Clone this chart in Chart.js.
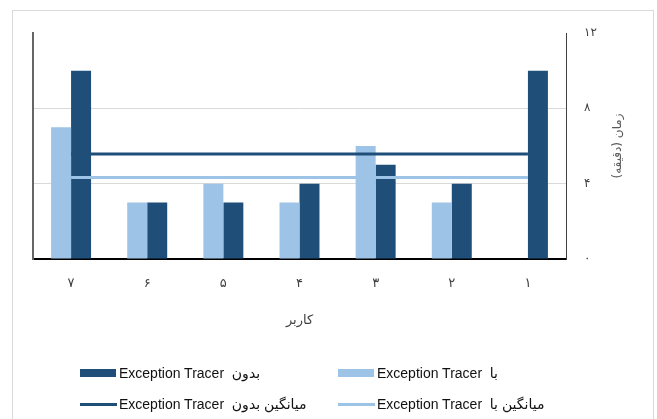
<!DOCTYPE html>
<html lang="fa">
<head>
<meta charset="utf-8">
<script src="https://cdn.jsdelivr.net/npm/chart.js@4/dist/chart.umd.min.js"></script>
<style>
  html, body { margin: 0; padding: 0; background: #fff; }
  #wrap { position: relative; width: 657px; height: 419px; overflow: hidden; }
  #frame { position: absolute; left: 12px; top: 10px; width: 642px; height: 420px; border: 1px solid #d9d9d9; box-sizing: border-box; }
  #chart { position: absolute; left: 0; top: 0; }
  #legend { position: absolute; left: 80px; top: 361px; display: grid; grid-template-columns: 258px auto; grid-auto-rows: 31px;
            font-family: "Liberation Sans", "DejaVu Sans", sans-serif; font-size: 14px; color: #111; }
  .item { display: flex; align-items: center; height: 24px; white-space: pre; }
  .sw-bar { width: 36px; height: 8px; margin-right: 3px; }
  .sw-line { width: 37px; height: 3px; margin-right: 2px; }
</style>
</head>
<body>
<div id="wrap">
  <div id="frame"></div>
  <canvas id="chart" width="657" height="419"></canvas>
  <div id="legend"></div>
</div>
<script>
// Users 1..7 (drawn right to left)
const users = ['۱', '۲', '۳', '۴', '۵', '۶', '۷'];
// Minutes spent per user
const withoutTracer = [10, 4, 5, 4, 3, 3, 10];
const withTracer = [null, 3, 6, 3, 4, 3, 7];
// Mean lines
const meanWithout = [5.57, 5.57, 5.57, 5.57, 5.57, 5.57, 5.57];
const meanWith = [4.33, 4.33, 4.33, 4.33, 4.33, 4.33, 4.33];
// Value axis labels (0, 4, 8, 12)
const yTickLabels = ['۰', '۴', '۸', '۱۲'];

const DARK = '#1f4e79';
const LIGHT = '#9dc3e6';

const seriesNames = {
  without: 'بدون Exception Tracer',
  with: 'با Exception Tracer',
  meanWithout: 'میانگین بدون Exception Tracer',
  meanWith: 'میانگین با Exception Tracer'
};

// Rotated title beside the value axis, reading bottom to top
const valueAxisTitle = {
  id: 'valueAxisTitle',
  afterDraw(chart) {
    const { ctx, chartArea, scales } = chart;
    const x = scales.y.right - 39;
    const y = (chartArea.top + chartArea.bottom) / 2;
    ctx.save();
    ctx.translate(x, y);
    ctx.rotate(-Math.PI / 2);
    ctx.font = '12px "DejaVu Sans", sans-serif';
    ctx.fillStyle = '#595959';
    ctx.textAlign = 'center';
    ctx.textBaseline = 'middle';
    ctx.fillText('\u200Fزمان (دقیقه)\u200F', 0, 0);
    ctx.restore();
  }
};

new Chart(document.getElementById('chart'), {
  data: {
    labels: users,
    datasets: [
      { type: 'bar', label: seriesNames.with, data: withTracer, backgroundColor: LIGHT, order: 1,
        categoryPercentage: 0.525, barPercentage: 1.0, yAxisID: 'y' },
      { type: 'bar', label: seriesNames.without, data: withoutTracer, backgroundColor: DARK, order: 1,
        categoryPercentage: 0.525, barPercentage: 1.0, yAxisID: 'y' },
      { type: 'line', label: seriesNames.meanWithout, data: meanWithout, borderColor: DARK, borderWidth: 3,
        pointRadius: 0, borderCapStyle: 'butt', order: 0, yAxisID: 'y' },
      { type: 'line', label: seriesNames.meanWith, data: meanWith, borderColor: LIGHT, borderWidth: 3,
        pointRadius: 0, borderCapStyle: 'butt', order: 0, yAxisID: 'y' }
    ]
  },
  options: {
    responsive: false,
    animation: false,
    layout: { padding: { top: 33, left: 0, right: 0, bottom: 89 } },
    plugins: { legend: { display: false }, tooltip: { enabled: false } },
    scales: {
      x: {
        reverse: true,
        position: 'bottom',
        grid: { display: false, drawTicks: false },
        border: { display: true, color: '#000', width: 2 },
        ticks: { padding: 17, color: '#404040', font: { family: '"DejaVu Sans", sans-serif', size: 13 } },
        title: { display: true, text: 'کاربر', color: '#404040', padding: { top: 0, bottom: 2 },
                 font: { family: '"DejaVu Sans", sans-serif', size: 13 } },
        afterFit(scale) { scale.height = 71; }
      },
      y: {
        position: 'right',
        min: 0, max: 12,
        ticks: {
          stepSize: 4, padding: 18, color: '#404040',
          font: { family: '"DejaVu Sans", sans-serif', size: 12 },
          callback: (v) => yTickLabels[v / 4]
        },
        grid: {
          drawTicks: false,
          color: (c) => (c.tick && (c.tick.value === 4 || c.tick.value === 8)) ? '#d9d9d9' : 'rgba(0,0,0,0)'
        },
        border: { display: true, color: '#404040', width: 1 },
        afterFit(scale) { scale.width = 91; }
      },
      yLeft: {
        position: 'left',
        min: 0, max: 12,
        ticks: { display: false },
        grid: { drawOnChartArea: false, drawTicks: false },
        border: { display: true, color: '#666', width: 2 },
        afterFit(scale) { scale.width = 33; }
      }
    }
  },
  plugins: [valueAxisTitle]
});

// Legend laid out as a 2x2 grid below the plot
const legendItems = [
  { name: seriesNames.without, color: DARK, kind: 'bar' },
  { name: seriesNames.with, color: LIGHT, kind: 'bar' },
  { name: seriesNames.meanWithout, color: DARK, kind: 'line' },
  { name: seriesNames.meanWith, color: LIGHT, kind: 'line' }
];
const legendEl = document.getElementById('legend');
legendItems.forEach((it) => {
  const item = document.createElement('div');
  item.className = 'item';
  const sw = document.createElement('span');
  sw.className = it.kind === 'bar' ? 'sw-bar' : 'sw-line';
  sw.style.background = it.color;
  const txt = document.createElement('span');
  txt.dir = 'rtl';
  txt.textContent = it.name.replace(' Exception', '  Exception');
  item.appendChild(sw);
  item.appendChild(txt);
  legendEl.appendChild(item);
});
</script>
</body>
</html>
